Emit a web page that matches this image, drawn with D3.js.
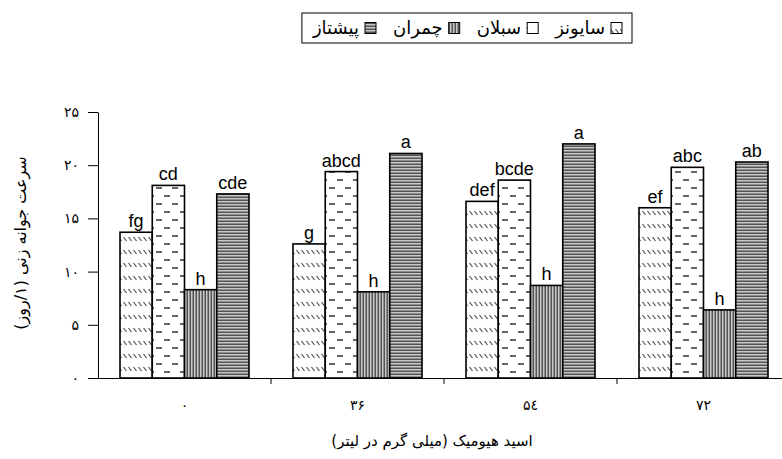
<!DOCTYPE html>
<html>
<head>
<meta charset="utf-8">
<script src="https://cdn.jsdelivr.net/npm/d3@7"></script>
<style>
  body { margin: 0; background: #fff; }
  svg { display: block; }
</style>
</head>
<body>
<script>
// categories = humic acid dose (mg/l), series = cultivars
const categories = ['۰', '۳۶', '۵٤', '۷۲'];
const series = ['سایونز', 'سبلان', 'چمران', 'پیشتاز'];

const sayonz = [13.7, 12.6, 16.6, 16.0];
const sabalan = [18.1, 19.4, 18.6, 19.8];
const chamran = [8.3, 8.1, 8.7, 6.4];
const pishtaz = [17.3, 21.1, 22.0, 20.3];

const sayonzLetters = ['fg', 'g', 'def', 'ef'];
const sabalanLetters = ['cd', 'abcd', 'bcde', 'abc'];
const chamranLetters = ['h', 'h', 'h', 'h'];
const pishtazLetters = ['cde', 'a', 'a', 'ab'];

const yTicks = [0, 5, 10, 15, 20, 25];
const yTickLabels = ['۰', '۵', '۱۰', '۱۵', '۲۰', '۲۵'];

const values = [sayonz, sabalan, chamran, pishtaz];
const letters = [sayonzLetters, sabalanLetters, chamranLetters, pishtazLetters];
const patterns = ['pDiag', 'pDash', 'pVert', 'pHorz'];

const
  width = 782,
  height = 459,
  left = 98,
  bottom = 378;

const svg = d3.select('body').append('svg')
  .attr('width', width)
  .attr('height', height);

// fill patterns
const defs = svg.append('defs');

let p = defs.append('pattern').attr('id', 'pDiag')
  .attr('patternUnits', 'userSpaceOnUse').attr('width', 5).attr('height', 13);
p.append('rect').attr('width', 5).attr('height', 13).attr('fill', '#fff');
p.append('line').attr('x1', 0.5).attr('y1', 3).attr('x2', 3.5).attr('y2', 7)
  .attr('stroke', '#555').attr('stroke-width', 1.2);

p = defs.append('pattern').attr('id', 'pDash')
  .attr('patternUnits', 'userSpaceOnUse').attr('width', 16).attr('height', 16);
p.append('rect').attr('width', 16).attr('height', 16).attr('fill', '#fff');
p.append('line').attr('x1', 2).attr('y1', 4).attr('x2', 8).attr('y2', 4)
  .attr('stroke', '#555').attr('stroke-width', 1.8);
p.append('line').attr('x1', 10).attr('y1', 12).attr('x2', 16).attr('y2', 12)
  .attr('stroke', '#555').attr('stroke-width', 1.8);

p = defs.append('pattern').attr('id', 'pVert')
  .attr('patternUnits', 'userSpaceOnUse').attr('width', 3).attr('height', 3);
p.append('rect').attr('width', 3).attr('height', 3).attr('fill', '#c8c8c8');
p.append('rect').attr('x', 1.5).attr('width', 1.5).attr('height', 3).attr('fill', '#555');

p = defs.append('pattern').attr('id', 'pHorz')
  .attr('patternUnits', 'userSpaceOnUse').attr('width', 3).attr('height', 3);
p.append('rect').attr('width', 3).attr('height', 3).attr('fill', '#c8c8c8');
p.append('rect').attr('y', 1.5).attr('width', 3).attr('height', 1.5).attr('fill', '#555');

// scales
const x0 = d3.scaleBand().domain(categories).range([left, 790]);
const x1 = d3.scaleBand().domain(series).range([22, x0.bandwidth() - 22]);
const y = d3.scaleLinear().domain([0, 25]).range([bottom, 112]);

// bars
const groups = svg.append('g').selectAll('g')
  .data(categories)
  .enter()
  .append('g')
  .attr('transform', (c) => `translate(${x0(c)},0)`);

groups.selectAll('rect')
  .data((c, ci) => series.map((s, si) => ({ s, si, v : values[si][ci] })))
  .enter()
  .append('rect')
  .attr('x', (d) => x1(d.s))
  .attr('y', (d) => y(d.v))
  .attr('width', x1.bandwidth())
  .attr('height', (d) => bottom - y(d.v))
  .attr('fill', (d) => `url(#${patterns[d.si]})`)
  .attr('stroke', '#000')
  .attr('stroke-width', 1.6);

groups.selectAll('text')
  .data((c, ci) => series.map((s, si) => ({ s, v : values[si][ci], t : letters[si][ci] })))
  .enter()
  .append('text')
  .attr('x', (d) => x1(d.s) + x1.bandwidth() / 2)
  .attr('y', (d) => y(d.v) - 5)
  .attr('text-anchor', 'middle')
  .style('font-family', 'Liberation Sans, Arial, sans-serif')
  .style('font-size', '18px')
  .text((d) => d.t);

// y axis
svg.append('g')
  .attr('transform', `translate(${left},0)`)
  .call(d3.axisLeft(y)
    .tickValues(yTicks)
    .tickFormat((d, i) => yTickLabels[i])
    .tickSize(10)
    .tickSizeOuter(0)
    .tickPadding(9));

// x axis: category labels under group centres, ticks on group edges
const xAxis = svg.append('g')
  .attr('transform', `translate(0,${bottom})`)
  .call(d3.axisBottom(x0).tickSize(0).tickPadding(22));

xAxis.select('.domain').attr('d', `M${left},0.5H${width}`);

svg.append('g')
  .attr('transform', `translate(0,${bottom})`)
  .selectAll('line')
  .data(categories.slice(1))
  .enter()
  .append('line')
  .attr('x1', (c) => x0(c))
  .attr('x2', (c) => x0(c))
  .attr('y1', 0)
  .attr('y2', 6)
  .attr('stroke', '#000');

svg.selectAll('.tick text')
  .style('font-family', 'DejaVu Sans, sans-serif')
  .style('font-size', '14px');

svg.selectAll('.domain, .tick line').attr('stroke', '#000');

// axis titles
svg.append('text')
  .attr('x', 432)
  .attr('y', 446)
  .attr('text-anchor', 'middle')
  .style('font-family', 'DejaVu Sans, sans-serif')
  .style('font-size', '15px')
  .text('اسید هیومیک (میلی گرم در لیتر)');

svg.append('text')
  .attr('transform', 'translate(26,243) rotate(-90)')
  .attr('text-anchor', 'middle')
  .style('font-family', 'DejaVu Sans, sans-serif')
  .style('font-size', '16px')
  .text('سرعت جوانه زنی (۱/روز)');

// legend, laid out right to left
const legend = svg.append('g');
const box = legend.append('rect')
  .attr('y', 13)
  .attr('height', 30)
  .attr('fill', '#fff')
  .attr('stroke', '#000');

let cursor = 622;
series.forEach((s, i) => {
  legend.append('rect')
    .attr('x', cursor - 11)
    .attr('y', 22.5)
    .attr('width', 11)
    .attr('height', 11)
    .attr('fill', `url(#${patterns[i]})`)
    .attr('stroke', '#000');
  cursor -= 17;
  const t = legend.append('text')
    .attr('x', cursor)
    .attr('y', 34)
    .attr('text-anchor', 'end')
    .style('font-family', 'DejaVu Sans, sans-serif')
    .style('font-size', '18px')
    .text(s);
  cursor -= t.node().getComputedTextLength() + 17;
});

box.attr('x', cursor + 6).attr('width', 632 - cursor - 6);
</script>
</body>
</html>
